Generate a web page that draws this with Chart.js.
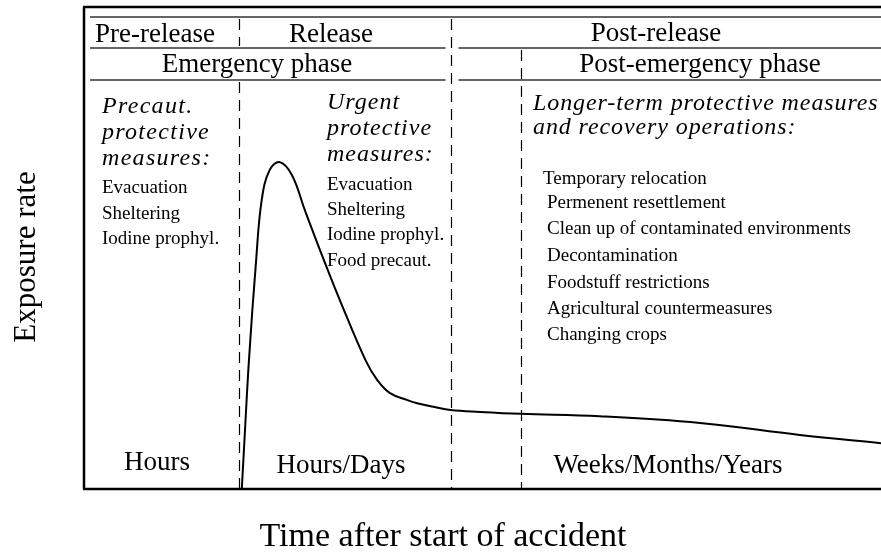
<!DOCTYPE html>
<html>
<head>
<meta charset="utf-8">
<script src="https://cdn.jsdelivr.net/npm/chart.js@4/dist/chart.umd.min.js"></script>
<style>
  html, body { margin: 0; padding: 0; background: #fff; }
  #wrap { width: 881px; height: 555px; position: relative; }
</style>
</head>
<body>
<div id="wrap"><canvas id="exposureChart"></canvas></div>
<script>
// Exposure rate curve (relative units, 0-100 on both axes)
const timeValues = [19.8, 20.2, 20.7, 21.6, 22.3, 23.3, 24.6, 26.1, 27.7, 30.0, 32.1, 35.3, 36.8, 38.4, 40.5, 41.8, 44.0, 46.0, 49.7, 54.8, 64.7, 77.3, 89.8, 100];
const exposureValues = [0, 12.2, 26.8, 47.5, 60.0, 66.2, 67.8, 65.1, 57.9, 47.9, 39.2, 26.8, 22.6, 19.9, 18.5, 17.8, 17.0, 16.4, 16.0, 15.6, 15.1, 13.7, 11.2, 9.5];

// Phase boundaries on the time axis
const phaseBounds = [19.45, 46.0, 54.8];

// Texts
const releaseLabels = ['Pre-release', 'Release', 'Post-release'];
const phaseLabels = ['Emergency phase', 'Post-emergency phase'];
const durationLabels = ['Hours', 'Hours/Days', 'Weeks/Months/Years'];
const precautHeading = ['Precaut.', 'protective', 'measures:'];
const precautItems = ['Evacuation', 'Sheltering', 'Iodine prophyl.'];
const urgentHeading = ['Urgent', 'protective', 'measures:'];
const urgentItems = ['Evacuation', 'Sheltering', 'Iodine prophyl.', 'Food precaut.'];
const longTermHeading = ['Longer-term protective measures', 'and recovery operations:'];
const longTermItems = ['Temporary relocation', 'Permenent resettlement', 'Clean up of contaminated environments',
    'Decontamination', 'Foodstuff restrictions', 'Agricultural countermeasures', 'Changing crops'];
const xTitle = 'Time after start of accident';
const yTitle = 'Exposure rate';

const SERIF = '"Liberation Serif", "Times New Roman", serif';

function hLine(ctx, x1, x2, y, width, color) {
    ctx.beginPath();
    ctx.lineWidth = width;
    ctx.strokeStyle = color;
    ctx.moveTo(x1, y);
    ctx.lineTo(x2, y);
    ctx.stroke();
}

function dashedV(ctx, x, y1, y2) {
    ctx.save();
    ctx.beginPath();
    ctx.setLineDash([11, 7]);
    ctx.lineWidth = 1.2;
    ctx.strokeStyle = '#000';
    ctx.moveTo(x, y1);
    ctx.lineTo(x, y2);
    ctx.stroke();
    ctx.restore();
}

function textLines(ctx, lines, x, baselines) {
    lines.forEach((t, i) => ctx.fillText(t, x, baselines[i]));
}

// Plugin: frame, header rows, dashed phase lines and annotations
const diagramPlugin = {
    id: 'diagram',
    afterDatasetsDraw(chart) {
        const ctx = chart.ctx;
        const area = chart.chartArea;
        const xs = chart.scales.x;
        const top = area.top;
        const bottom = area.bottom;
        const b1 = Math.round(xs.getPixelForValue(phaseBounds[0])) + 0.5;
        const b2 = Math.round(xs.getPixelForValue(phaseBounds[1])) + 0.5;
        const b3 = Math.round(xs.getPixelForValue(phaseBounds[2])) + 0.5;

        ctx.save();
        // Frame
        hLine(ctx, area.left - 1, area.right, top, 2.5, '#000');
        hLine(ctx, area.left - 1, area.right, bottom, 2.5, '#000');
        ctx.beginPath();
        ctx.lineWidth = 2.5;
        ctx.moveTo(area.left, top);
        ctx.lineTo(area.left, bottom);
        ctx.stroke();

        // Header rows
        const r1 = top + 10, r2 = top + 41, r3 = top + 73;
        hLine(ctx, area.left + 6, area.right, r1, 1.5, '#333');
        hLine(ctx, area.left + 6, b2 - 6, r2, 1.5, '#333');
        hLine(ctx, b2 + 7, area.right, r2, 1.5, '#333');
        hLine(ctx, area.left + 6, b2 - 6, r3, 1.5, '#333');
        hLine(ctx, b2 + 7, area.right, r3, 1.5, '#333');

        // Dashed phase boundaries
        dashedV(ctx, b1, r1 + 2, r2 - 2);
        dashedV(ctx, b1, r3 + 2, bottom);
        dashedV(ctx, b2, r1 + 2, bottom);
        dashedV(ctx, b3, r2 + 2, bottom);

        ctx.fillStyle = '#000';
        ctx.textBaseline = 'alphabetic';

        // Header texts
        ctx.textAlign = 'center';
        ctx.font = '27px ' + SERIF;
        ctx.fillText(releaseLabels[0], 155, 42);
        ctx.fillText(releaseLabels[1], 331, 42);
        ctx.fillText(releaseLabels[2], 656, 41);
        ctx.fillText(phaseLabels[0], 257, 72);
        ctx.fillText(phaseLabels[1], 700, 72);

        // Duration labels
        ctx.fillText(durationLabels[0], 157, 470);
        ctx.fillText(durationLabels[1], 341, 473);
        ctx.fillText(durationLabels[2], 668, 473);

        // Italic headings
        ctx.textAlign = 'left';
        ctx.font = 'italic 24px ' + SERIF;
        ctx.letterSpacing = '1.3px';
        textLines(ctx, precautHeading, 102, [113, 139, 165]);
        ctx.letterSpacing = '1px';
        textLines(ctx, urgentHeading, 327, [109, 135, 161]);
        ctx.letterSpacing = '0.9px';
        textLines(ctx, longTermHeading, 533, [110, 134]);
        ctx.letterSpacing = '0px';

        // Measure lists
        ctx.font = '19px ' + SERIF;
        textLines(ctx, precautItems, 102, [193, 219, 244]);
        textLines(ctx, urgentItems, 327, [190, 215, 240, 266]);
        textLines(ctx, longTermItems.slice(0, 1), 543, [184]);
        textLines(ctx, longTermItems.slice(1), 547, [208, 234, 261, 288, 314, 340]);

        // Axis titles
        ctx.textAlign = 'center';
        ctx.font = '34px ' + SERIF;
        ctx.fillText(xTitle, 443, 546);
        ctx.save();
        ctx.translate(35, 257);
        ctx.rotate(-Math.PI / 2);
        ctx.font = '31px ' + SERIF;
        ctx.fillText(yTitle, 0, 0);
        ctx.restore();

        ctx.restore();
    }
};

function createExposureChart() {
    const ctx = document.getElementById('exposureChart').getContext('2d');
    const points = timeValues.map((t, i) => ({ x: t, y: exposureValues[i] }));

    new Chart(ctx, {
        type: 'line',
        data: {
            datasets: [{
                label: yTitle,
                data: points,
                borderColor: '#000',
                borderWidth: 2,
                pointRadius: 0,
                fill: false,
                tension: 0.4
            }]
        },
        options: {
            responsive: true,
            maintainAspectRatio: false,
            animation: false,
            layout: { padding: { left: 84, right: 0, top: 7, bottom: 66 } },
            scales: {
                x: { type: 'linear', min: 0, max: 100, display: false },
                y: { type: 'linear', min: 0, max: 100, display: false }
            },
            plugins: {
                legend: { display: false },
                tooltip: { enabled: false }
            }
        },
        plugins: [diagramPlugin]
    });
}

document.addEventListener('DOMContentLoaded', createExposureChart);
</script>
</body>
</html>
